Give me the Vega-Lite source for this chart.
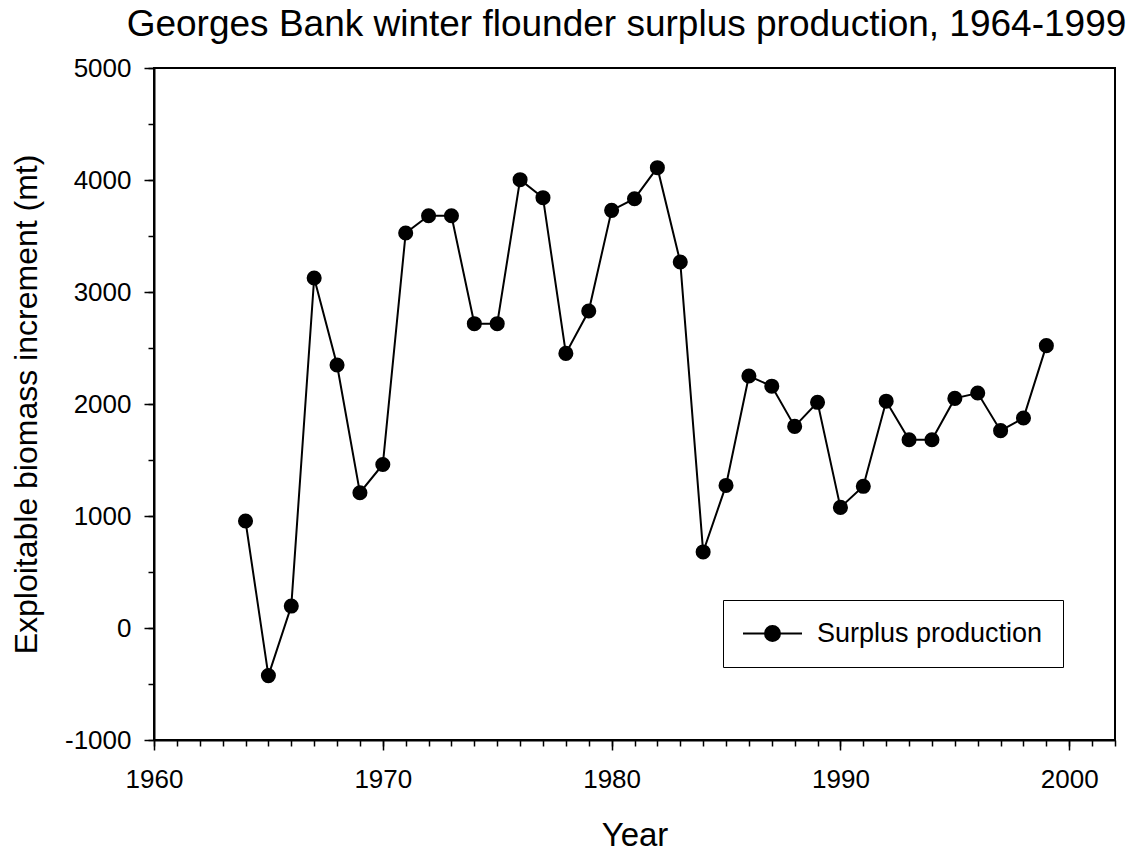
{
  "$schema": "https://vega.github.io/schema/vega-lite/v6.json",
  "width": 961,
  "height": 672,
  "autosize": {"type": "none"},
  "padding": {"left": 154, "top": 68, "right": 22, "bottom": 114},
  "background": "white",
  "title": {
    "text": "Georges Bank winter flounder surplus production, 1964-1999",
    "fontSize": 37,
    "font": "Liberation Sans",
    "fontWeight": "normal",
    "color": "black",
    "anchor": "middle",
    "dx": -8,
    "offset": 11
  },
  "data": {
    "values": [
      {"year": 1964, "value": 955},
      {"year": 1965, "value": -425},
      {"year": 1966, "value": 196},
      {"year": 1967, "value": 3125},
      {"year": 1968, "value": 2348},
      {"year": 1969, "value": 1208},
      {"year": 1970, "value": 1460},
      {"year": 1971, "value": 3527},
      {"year": 1972, "value": 3681},
      {"year": 1973, "value": 3681},
      {"year": 1974, "value": 2717},
      {"year": 1975, "value": 2717},
      {"year": 1976, "value": 4003},
      {"year": 1977, "value": 3842},
      {"year": 1978, "value": 2452},
      {"year": 1979, "value": 2830},
      {"year": 1980, "value": 3729},
      {"year": 1981, "value": 3833},
      {"year": 1982, "value": 4110},
      {"year": 1983, "value": 3268},
      {"year": 1984, "value": 679},
      {"year": 1985, "value": 1273},
      {"year": 1986, "value": 2250},
      {"year": 1987, "value": 2159},
      {"year": 1988, "value": 1800},
      {"year": 1989, "value": 2015},
      {"year": 1990, "value": 1077},
      {"year": 1991, "value": 1265},
      {"year": 1992, "value": 2025},
      {"year": 1993, "value": 1681},
      {"year": 1994, "value": 1681},
      {"year": 1995, "value": 2050},
      {"year": 1996, "value": 2098},
      {"year": 1997, "value": 1762},
      {"year": 1998, "value": 1875},
      {"year": 1999, "value": 2521}
    ]
  },
  "layer": [
    {
      "mark": {"type": "line", "color": "black", "strokeWidth": 2},
      "encoding": {
        "x": {
          "field": "year", "type": "quantitative",
          "scale": {"domain": [1960, 2002], "nice": false, "zero": false},
          "axis": {
            "orient": "bottom",
            "values": [1960, 1970, 1980, 1990, 2000],
            "format": "d",
            "tickSize": 10,
            "tickWidth": 1.5,
            "tickColor": "black",
            "domainColor": "black",
            "domainWidth": 2,
            "labelFontSize": 26,
            "labelFont": "Liberation Sans",
            "labelColor": "black",
            "labelPadding": 16,
            "labelFlush": false,
            "grid": false,
            "title": "Year",
            "titleFont": "Liberation Sans",
            "titleFontSize": 33,
            "titleFontWeight": "normal",
            "titleColor": "black",
            "titlePadding": 27
          }
        },
        "y": {
          "field": "value", "type": "quantitative",
          "scale": {"domain": [-1000, 5000], "nice": false, "zero": false},
          "axis": {
            "orient": "left",
            "values": [-1000, 0, 1000, 2000, 3000, 4000, 5000],
            "labelExpr": "datum.value < 0 ? '-' + format(-datum.value, 'd') : format(datum.value, 'd')",
            "tickSize": 10,
            "tickWidth": 1.5,
            "tickColor": "black",
            "domainColor": "black",
            "domainWidth": 2,
            "labelFontSize": 26,
            "labelFont": "Liberation Sans",
            "labelColor": "black",
            "labelPadding": 13,
            "labelFlush": false,
            "grid": false,
            "title": "Exploitable biomass increment (mt)",
            "titleFont": "Liberation Sans",
            "titleFontSize": 32,
            "titleFontWeight": "normal",
            "titleColor": "black",
            "titlePadding": 21
          }
        }
      }
    },
    {
      "mark": {"type": "point", "filled": true, "size": 227, "opacity": 1, "strokeWidth": 0},
      "encoding": {
        "x": {
          "field": "year", "type": "quantitative",
          "axis": {
            "orient": "bottom",
            "values": [1960,1961,1962,1963,1964,1965,1966,1967,1968,1969,1970,1971,1972,1973,1974,1975,1976,1977,1978,1979,1980,1981,1982,1983,1984,1985,1986,1987,1988,1989,1990,1991,1992,1993,1994,1995,1996,1997,1998,1999,2000,2001,2002],
            "tickSize": 6,
            "tickWidth": 1.5,
            "tickColor": "black",
            "labels": false,
            "domain": false,
            "grid": false,
            "title": null
          }
        },
        "y": {
          "field": "value", "type": "quantitative",
          "axis": {
            "orient": "left",
            "values": [-1000,-500,0,500,1000,1500,2000,2500,3000,3500,4000,4500,5000],
            "tickSize": 6,
            "tickWidth": 1.5,
            "tickColor": "black",
            "labels": false,
            "domain": false,
            "grid": false,
            "title": null
          }
        },
        "color": {
          "datum": "Surplus production",
          "type": "nominal",
          "scale": {"range": ["black"]},
          "legend": {
            "title": null,
            "orient": "none",
            "legendX": 569,
            "legendY": 532,
            "symbolType": "M-2.36,0H2.36M0.6,0A0.6,0.6,0,1,1,-0.6,0A0.6,0.6,0,1,1,0.6,0Z",
            "symbolSize": 625,
            "symbolOffset": 16,
            "symbolStrokeWidth": 2,
            "symbolFillColor": "black",
            "symbolStrokeColor": "black",
            "symbolOpacity": 1,
            "labelFontSize": 27,
            "labelFont": "Liberation Sans",
            "labelColor": "black",
            "labelOffset": 31,
            "labelLimit": 0,
            "padding": 20,
            "strokeColor": "black",
            "fillColor": "white"
          }
        }
      }
    }
  ],
  "resolve": {"axis": {"x": "independent", "y": "independent"}},
  "config": {
    "view": {"stroke": "black", "strokeWidth": 2}
  }
}
